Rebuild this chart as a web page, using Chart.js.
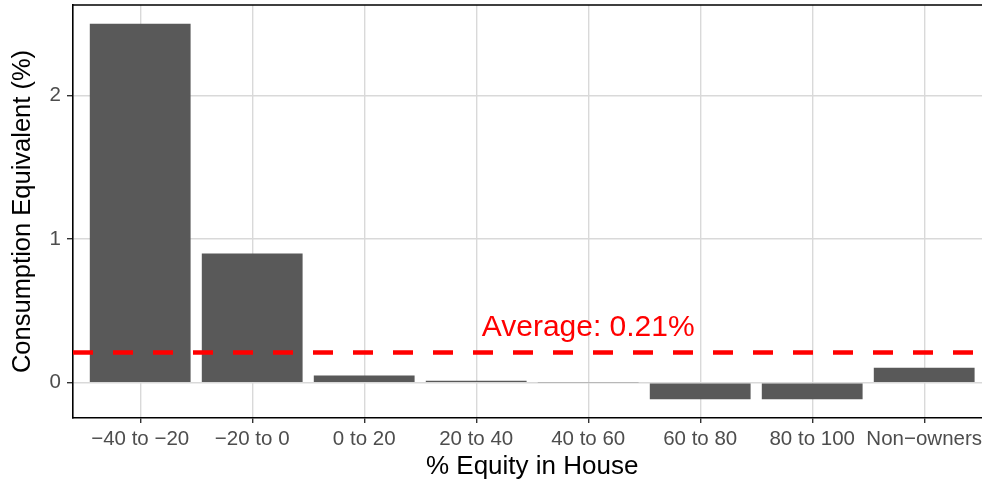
<!DOCTYPE html>
<html>
<head>
<meta charset="utf-8">
<script src="https://cdn.jsdelivr.net/npm/chart.js@4.4.0/dist/chart.umd.min.js"></script>
<style>
  html, body { margin: 0; padding: 0; background: #fff; overflow: hidden; }
  #wrap { width: 1000px; height: 482px; }
</style>
</head>
<body>
<div id="wrap"><canvas id="chart" width="1000" height="482"></canvas></div>
<script>
const categories = ['\u221240 to \u221220', '\u221220 to 0', '0 to 20', '20 to 40', '40 to 60', '60 to 80', '80 to 100', 'Non\u2212owners'];
const values = [2.50, 0.90, 0.05, 0.013, 0.004, -0.115, -0.115, 0.105];
const average = 0.21;
const averageLabel = 'Average: 0.21%';
const labelPos = [4, 0.40];
const yTicks = [0, 1, 2];

const FONT = "'Liberation Sans', Arial, Helvetica, sans-serif";

// ggplot-like 5% expansion of the data range
const lo = Math.min(0, ...values);
const hi = Math.max(0, ...values);
const pad = (hi - lo) * 0.05;

const avgLine = {
  id: 'avgLine',
  afterDatasetsDraw(chart) {
    const { ctx, chartArea, scales } = chart;
    const y = scales.y.getPixelForValue(average);
    ctx.save();
    ctx.beginPath();
    ctx.rect(chartArea.left, chartArea.top, chartArea.right - chartArea.left, chartArea.bottom - chartArea.top);
    ctx.clip();
    ctx.strokeStyle = '#ff0000';
    ctx.lineWidth = 4.5;
    ctx.setLineDash([20, 20]);
    ctx.beginPath();
    ctx.moveTo(chartArea.left, y);
    ctx.lineTo(chartArea.right, y);
    ctx.stroke();
    ctx.setLineDash([]);
    ctx.fillStyle = '#ff0000';
    ctx.font = '30px ' + FONT;
    ctx.textAlign = 'center';
    ctx.textBaseline = 'alphabetic';
    const tx = scales.x.getPixelForValue(labelPos[0]);
    const ty = scales.y.getPixelForValue(labelPos[1]) + 30 * 0.358;
    ctx.fillText(averageLabel, tx, ty);
    ctx.restore();

    // panel border (top and right)
    ctx.save();
    ctx.strokeStyle = '#000';
    ctx.lineWidth = 1.6;
    ctx.beginPath();
    ctx.moveTo(chartArea.left, chartArea.top);
    ctx.lineTo(chartArea.right, chartArea.top);
    ctx.lineTo(chartArea.right, chartArea.bottom);
    ctx.stroke();
    ctx.restore();
  }
};

new Chart(document.getElementById('chart').getContext('2d'), {
  type: 'bar',
  data: {
    datasets: [{
      data: values.map((v, i) => ({ x: i, y: v })),
      backgroundColor: '#595959',
      borderWidth: 0,
      categoryPercentage: 1,
      barPercentage: 0.9
    }]
  },
  options: {
    responsive: false,
    animation: false,
    layout: { padding: { top: 5, left: 0, right: 8.6, bottom: 0 } },
    plugins: { legend: { display: false }, tooltip: { enabled: false } },
    scales: {
      x: {
        type: 'linear',
        min: -0.6,
        max: categories.length - 0.4,
        offset: false,
        afterBuildTicks: s => { s.ticks = categories.map((c, i) => ({ value: i })); },
        afterFit: s => { s.height = 64; s.paddingLeft = 0; s.paddingRight = 0; },
        grid: { offset: false, color: '#d9d9d9', lineWidth: 1.4, tickColor: '#333', tickLength: 5, tickWidth: 1.4 },
        border: { color: '#000', width: 1.6 },
        ticks: {
          callback: v => categories[v],
          color: '#4d4d4d',
          font: { family: FONT, size: 20.5 },
          padding: 4,
          maxRotation: 0,
          autoSkip: false
        },
        title: {
          display: true,
          text: '% Equity in House',
          color: '#000',
          font: { family: FONT, size: 26 },
          padding: { top: 0, bottom: 0 }
        }
      },
      y: {
        min: lo - pad,
        max: hi + pad,
        afterBuildTicks: s => { s.ticks = yTicks.map(v => ({ value: v })); },
        afterFit: s => { s.width = 73; s.paddingTop = 0; s.paddingBottom = 0; },
        grid: { color: '#d9d9d9', lineWidth: 1.4, tickColor: '#333', tickLength: 6, tickWidth: 1.4 },
        border: { color: '#000', width: 1.6 },
        ticks: {
          color: '#4d4d4d',
          font: { family: FONT, size: 20.5 },
          padding: 6
        },
        title: {
          display: true,
          text: 'Consumption Equivalent (%)',
          color: '#000',
          font: { family: FONT, size: 25.5 },
          padding: { top: 8, bottom: 0 }
        }
      }
    }
  },
  plugins: [avgLine]
});
</script>
</body>
</html>
